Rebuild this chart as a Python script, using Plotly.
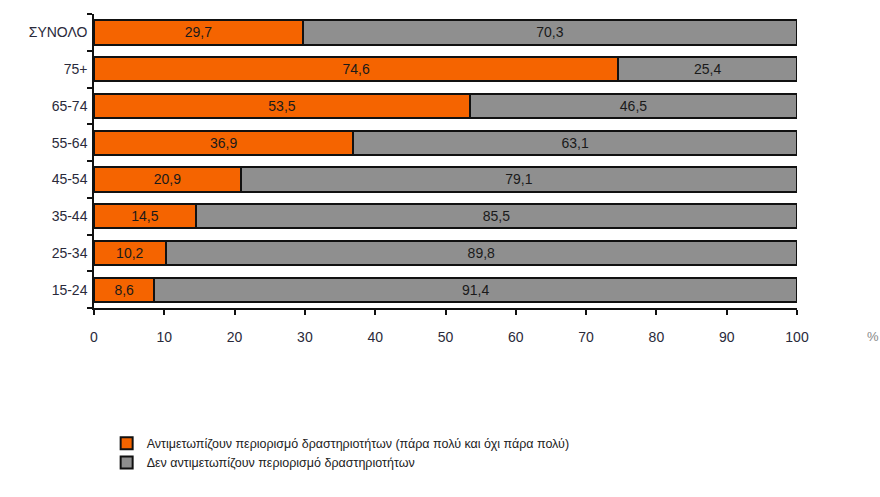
import plotly.graph_objects as go

# Age groups, bottom to top
categories = ["15-24", "25-34", "35-44", "45-54", "55-64", "65-74", "75+", "ΣΥΝΟΛΟ"]
limited = [8.6, 10.2, 14.5, 20.9, 36.9, 53.5, 74.6, 29.7]
not_limited = [91.4, 89.8, 85.5, 79.1, 63.1, 46.5, 25.4, 70.3]
x_ticks = [0, 10, 20, 30, 40, 50, 60, 70, 80, 90, 100]

name_limited = "Αντιμετωπίζουν περιορισμό δραστηριοτήτων (πάρα πολύ και όχι πάρα πολύ)"
name_not = "Δεν αντιμετωπίζουν περιορισμό δραστηριοτήτων"

FONT = "Liberation Sans, Arial, sans-serif"


def fmt(v):
    return f"{v:.1f}".replace(".", ",")


fig = go.Figure()
fig.add_trace(go.Bar(
    y=categories, x=limited, orientation="h", name=name_limited,
    marker=dict(color="#F56400", line=dict(color="#111111", width=2)),
    text=[fmt(v) for v in limited], textposition="inside", insidetextanchor="middle",
    textfont=dict(color="#1a1a1a", size=14, family=FONT),
    constraintext="none",
))
fig.add_trace(go.Bar(
    y=categories, x=not_limited, orientation="h", name=name_not,
    marker=dict(color="#8f8f8f", line=dict(color="#111111", width=2)),
    text=[fmt(v) for v in not_limited], textposition="inside", insidetextanchor="middle",
    textfont=dict(color="#1a1a1a", size=14, family=FONT),
    constraintext="none",
))

fig.update_layout(
    barmode="stack",
    bargap=0.34,
    width=880, height=497,
    margin=dict(l=94, r=83, t=14, b=189),
    plot_bgcolor="white", paper_bgcolor="white",
    font=dict(family=FONT, size=14, color="#222222"),
    showlegend=True,
    legend=dict(
        x=0.018, y=-0.41, xanchor="left", yanchor="top",
        traceorder="normal", orientation="v",
        font=dict(size=12.5, color="#222222", family=FONT),
        itemwidth=30,
    ),
    xaxis=dict(
        range=[0, 100], tickvals=x_ticks, showgrid=False, zeroline=False,
        showline=True, linecolor="#111111", linewidth=1.5,
        ticks="outside", ticklen=5, tickcolor="#111111", tickwidth=1.5,
        ticklabelstandoff=10,
        tickfont=dict(size=14, color="#2a2a3a"),
    ),
    yaxis=dict(
        showgrid=False, zeroline=False,
        showline=True, linecolor="#111111", linewidth=1.5,
        ticks="outside", tickson="boundaries", ticklen=5, tickcolor="#111111", tickwidth=1.5,
        ticklabelstandoff=2,
        tickfont=dict(size=14, color="#2a2a3a"),
        range=[-0.5, len(categories) - 0.5],
    ),
    annotations=[dict(
        text="%", x=1.12, y=-0.13, xref="paper", yref="paper",
        showarrow=False, font=dict(size=13, color="#888888"),
    )],
)

fig.write_html("out.html")
